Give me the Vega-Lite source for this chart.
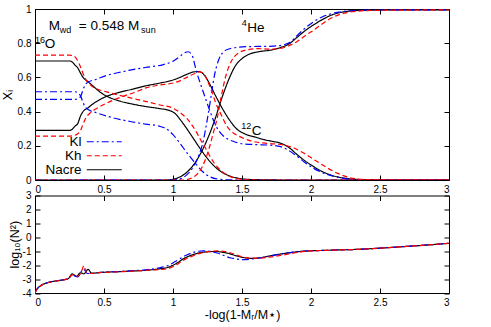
{
"$schema": "https://vega.github.io/schema/vega-lite/v6.json",
"padding": {"left": 0, "top": 3, "right": 5, "bottom": 5},
"background": "white",
"config": {
  "font": "Liberation Sans",
  "view": {"stroke": "#000", "strokeWidth": 1},
  "axis": {"domain": false, "grid": false, "tickSize": -5, "tickColor": "#000", "tickWidth": 1, "labelFontSize": 10, "labelColor": "#000", "labelPadding": 9, "titleFontSize": 12.5, "titleFontWeight": "normal", "titleColor": "#000"}
},
"datasets": {
"top": [
{"m":"Nacre","e":"O","x":0,"v":0.696},{"m":"Nacre","e":"O","x":0.25,"v":0.696},{"m":"Nacre","e":"O","x":0.27,"v":0.69},{"m":"Nacre","e":"O","x":0.29,"v":0.672},{"m":"Nacre","e":"O","x":0.31,"v":0.655},{"m":"Nacre","e":"O","x":0.33,"v":0.625},{"m":"Nacre","e":"O","x":0.35,"v":0.598},{"m":"Nacre","e":"O","x":0.38,"v":0.578},{"m":"Nacre","e":"O","x":0.42,"v":0.55},{"m":"Nacre","e":"O","x":0.47,"v":0.515},{"m":"Nacre","e":"O","x":0.52,"v":0.49},{"m":"Nacre","e":"O","x":0.6,"v":0.465},{"m":"Nacre","e":"O","x":0.7,"v":0.445},{"m":"Nacre","e":"O","x":0.8,"v":0.43},{"m":"Nacre","e":"O","x":0.9,"v":0.418},{"m":"Nacre","e":"O","x":0.98,"v":0.405},{"m":"Nacre","e":"O","x":1.02,"v":0.385},{"m":"Nacre","e":"O","x":1.06,"v":0.345},{"m":"Nacre","e":"O","x":1.1,"v":0.3},{"m":"Nacre","e":"O","x":1.15,"v":0.24},{"m":"Nacre","e":"O","x":1.2,"v":0.18},{"m":"Nacre","e":"O","x":1.25,"v":0.125},{"m":"Nacre","e":"O","x":1.3,"v":0.08},{"m":"Nacre","e":"O","x":1.35,"v":0.048},{"m":"Nacre","e":"O","x":1.4,"v":0.027},{"m":"Nacre","e":"O","x":1.45,"v":0.014},{"m":"Nacre","e":"O","x":1.5,"v":0.007},{"m":"Nacre","e":"O","x":1.6,"v":0.002},{"m":"Nacre","e":"O","x":1.8,"v":0},{"m":"Nacre","e":"O","x":3,"v":0},
{"m":"Nacre","e":"C","x":0,"v":0.29},{"m":"Nacre","e":"C","x":0.25,"v":0.29},{"m":"Nacre","e":"C","x":0.27,"v":0.297},{"m":"Nacre","e":"C","x":0.29,"v":0.315},{"m":"Nacre","e":"C","x":0.31,"v":0.33},{"m":"Nacre","e":"C","x":0.33,"v":0.375},{"m":"Nacre","e":"C","x":0.35,"v":0.402},{"m":"Nacre","e":"C","x":0.38,"v":0.42},{"m":"Nacre","e":"C","x":0.42,"v":0.445},{"m":"Nacre","e":"C","x":0.47,"v":0.47},{"m":"Nacre","e":"C","x":0.52,"v":0.49},{"m":"Nacre","e":"C","x":0.6,"v":0.51},{"m":"Nacre","e":"C","x":0.7,"v":0.53},{"m":"Nacre","e":"C","x":0.8,"v":0.55},{"m":"Nacre","e":"C","x":0.9,"v":0.566},{"m":"Nacre","e":"C","x":1.0,"v":0.585},{"m":"Nacre","e":"C","x":1.05,"v":0.6},{"m":"Nacre","e":"C","x":1.1,"v":0.618},{"m":"Nacre","e":"C","x":1.15,"v":0.632},{"m":"Nacre","e":"C","x":1.19,"v":0.634},{"m":"Nacre","e":"C","x":1.23,"v":0.61},{"m":"Nacre","e":"C","x":1.27,"v":0.555},{"m":"Nacre","e":"C","x":1.31,"v":0.49},{"m":"Nacre","e":"C","x":1.36,"v":0.415},{"m":"Nacre","e":"C","x":1.41,"v":0.35},{"m":"Nacre","e":"C","x":1.46,"v":0.3},{"m":"Nacre","e":"C","x":1.52,"v":0.27},{"m":"Nacre","e":"C","x":1.6,"v":0.25},{"m":"Nacre","e":"C","x":1.66,"v":0.236},{"m":"Nacre","e":"C","x":1.72,"v":0.226},{"m":"Nacre","e":"C","x":1.78,"v":0.215},{"m":"Nacre","e":"C","x":1.84,"v":0.19},{"m":"Nacre","e":"C","x":1.9,"v":0.148},{"m":"Nacre","e":"C","x":1.96,"v":0.11},{"m":"Nacre","e":"C","x":2.02,"v":0.078},{"m":"Nacre","e":"C","x":2.08,"v":0.05},{"m":"Nacre","e":"C","x":2.14,"v":0.03},{"m":"Nacre","e":"C","x":2.2,"v":0.017},{"m":"Nacre","e":"C","x":2.26,"v":0.009},{"m":"Nacre","e":"C","x":2.35,"v":0.003},{"m":"Nacre","e":"C","x":2.5,"v":0},{"m":"Nacre","e":"C","x":3,"v":0},
{"m":"Nacre","e":"He","x":0,"v":0},{"m":"Nacre","e":"He","x":0.95,"v":0},{"m":"Nacre","e":"He","x":1.0,"v":0.004},{"m":"Nacre","e":"He","x":1.05,"v":0.018},{"m":"Nacre","e":"He","x":1.1,"v":0.045},{"m":"Nacre","e":"He","x":1.15,"v":0.09},{"m":"Nacre","e":"He","x":1.2,"v":0.155},{"m":"Nacre","e":"He","x":1.25,"v":0.24},{"m":"Nacre","e":"He","x":1.3,"v":0.345},{"m":"Nacre","e":"He","x":1.35,"v":0.47},{"m":"Nacre","e":"He","x":1.4,"v":0.58},{"m":"Nacre","e":"He","x":1.45,"v":0.665},{"m":"Nacre","e":"He","x":1.5,"v":0.71},{"m":"Nacre","e":"He","x":1.55,"v":0.735},{"m":"Nacre","e":"He","x":1.62,"v":0.75},{"m":"Nacre","e":"He","x":1.71,"v":0.76},{"m":"Nacre","e":"He","x":1.78,"v":0.775},{"m":"Nacre","e":"He","x":1.84,"v":0.795},{"m":"Nacre","e":"He","x":1.9,"v":0.835},{"m":"Nacre","e":"He","x":1.96,"v":0.875},{"m":"Nacre","e":"He","x":2.02,"v":0.908},{"m":"Nacre","e":"He","x":2.08,"v":0.937},{"m":"Nacre","e":"He","x":2.14,"v":0.962},{"m":"Nacre","e":"He","x":2.2,"v":0.977},{"m":"Nacre","e":"He","x":2.26,"v":0.986},{"m":"Nacre","e":"He","x":2.33,"v":0.991},{"m":"Nacre","e":"He","x":2.45,"v":0.994},{"m":"Nacre","e":"He","x":3,"v":0.995},
{"m":"Kl","e":"O","x":0,"v":0.516},{"m":"Kl","e":"O","x":0.29,"v":0.516},{"m":"Kl","e":"O","x":0.31,"v":0.51},{"m":"Kl","e":"O","x":0.33,"v":0.492},{"m":"Kl","e":"O","x":0.345,"v":0.46},{"m":"Kl","e":"O","x":0.36,"v":0.432},{"m":"Kl","e":"O","x":0.38,"v":0.415},{"m":"Kl","e":"O","x":0.45,"v":0.392},{"m":"Kl","e":"O","x":0.55,"v":0.367},{"m":"Kl","e":"O","x":0.69,"v":0.342},{"m":"Kl","e":"O","x":0.8,"v":0.327},{"m":"Kl","e":"O","x":0.9,"v":0.315},{"m":"Kl","e":"O","x":0.96,"v":0.295},{"m":"Kl","e":"O","x":1.0,"v":0.265},{"m":"Kl","e":"O","x":1.05,"v":0.215},{"m":"Kl","e":"O","x":1.1,"v":0.16},{"m":"Kl","e":"O","x":1.13,"v":0.13},{"m":"Kl","e":"O","x":1.17,"v":0.09},{"m":"Kl","e":"O","x":1.22,"v":0.045},{"m":"Kl","e":"O","x":1.27,"v":0.018},{"m":"Kl","e":"O","x":1.32,"v":0.006},{"m":"Kl","e":"O","x":1.4,"v":0.001},{"m":"Kl","e":"O","x":1.5,"v":0},{"m":"Kl","e":"O","x":3,"v":0},
{"m":"Kl","e":"C","x":0,"v":0.472},{"m":"Kl","e":"C","x":0.29,"v":0.472},{"m":"Kl","e":"C","x":0.31,"v":0.476},{"m":"Kl","e":"C","x":0.33,"v":0.488},{"m":"Kl","e":"C","x":0.345,"v":0.52},{"m":"Kl","e":"C","x":0.36,"v":0.55},{"m":"Kl","e":"C","x":0.38,"v":0.57},{"m":"Kl","e":"C","x":0.45,"v":0.59},{"m":"Kl","e":"C","x":0.52,"v":0.612},{"m":"Kl","e":"C","x":0.6,"v":0.627},{"m":"Kl","e":"C","x":0.69,"v":0.643},{"m":"Kl","e":"C","x":0.8,"v":0.658},{"m":"Kl","e":"C","x":0.93,"v":0.675},{"m":"Kl","e":"C","x":1.0,"v":0.695},{"m":"Kl","e":"C","x":1.05,"v":0.723},{"m":"Kl","e":"C","x":1.08,"v":0.742},{"m":"Kl","e":"C","x":1.11,"v":0.75},{"m":"Kl","e":"C","x":1.14,"v":0.725},{"m":"Kl","e":"C","x":1.17,"v":0.635},{"m":"Kl","e":"C","x":1.2,"v":0.56},{"m":"Kl","e":"C","x":1.23,"v":0.49},{"m":"Kl","e":"C","x":1.26,"v":0.42},{"m":"Kl","e":"C","x":1.29,"v":0.355},{"m":"Kl","e":"C","x":1.33,"v":0.29},{"m":"Kl","e":"C","x":1.38,"v":0.248},{"m":"Kl","e":"C","x":1.44,"v":0.225},{"m":"Kl","e":"C","x":1.5,"v":0.212},{"m":"Kl","e":"C","x":1.6,"v":0.207},{"m":"Kl","e":"C","x":1.7,"v":0.204},{"m":"Kl","e":"C","x":1.78,"v":0.195},{"m":"Kl","e":"C","x":1.84,"v":0.172},{"m":"Kl","e":"C","x":1.9,"v":0.138},{"m":"Kl","e":"C","x":1.96,"v":0.1},{"m":"Kl","e":"C","x":2.02,"v":0.068},{"m":"Kl","e":"C","x":2.08,"v":0.044},{"m":"Kl","e":"C","x":2.14,"v":0.027},{"m":"Kl","e":"C","x":2.2,"v":0.015},{"m":"Kl","e":"C","x":2.3,"v":0.004},{"m":"Kl","e":"C","x":2.45,"v":0},{"m":"Kl","e":"C","x":3,"v":0},
{"m":"Kl","e":"He","x":0,"v":0},{"m":"Kl","e":"He","x":1.0,"v":0},{"m":"Kl","e":"He","x":1.05,"v":0.006},{"m":"Kl","e":"He","x":1.1,"v":0.03},{"m":"Kl","e":"He","x":1.15,"v":0.08},{"m":"Kl","e":"He","x":1.19,"v":0.15},{"m":"Kl","e":"He","x":1.22,"v":0.23},{"m":"Kl","e":"He","x":1.24,"v":0.315},{"m":"Kl","e":"He","x":1.26,"v":0.41},{"m":"Kl","e":"He","x":1.28,"v":0.51},{"m":"Kl","e":"He","x":1.3,"v":0.61},{"m":"Kl","e":"He","x":1.33,"v":0.7},{"m":"Kl","e":"He","x":1.36,"v":0.745},{"m":"Kl","e":"He","x":1.4,"v":0.765},{"m":"Kl","e":"He","x":1.47,"v":0.776},{"m":"Kl","e":"He","x":1.55,"v":0.78},{"m":"Kl","e":"He","x":1.7,"v":0.782},{"m":"Kl","e":"He","x":1.8,"v":0.79},{"m":"Kl","e":"He","x":1.86,"v":0.812},{"m":"Kl","e":"He","x":1.9,"v":0.845},{"m":"Kl","e":"He","x":1.96,"v":0.89},{"m":"Kl","e":"He","x":2.02,"v":0.926},{"m":"Kl","e":"He","x":2.08,"v":0.953},{"m":"Kl","e":"He","x":2.14,"v":0.971},{"m":"Kl","e":"He","x":2.2,"v":0.982},{"m":"Kl","e":"He","x":2.3,"v":0.99},{"m":"Kl","e":"He","x":2.45,"v":0.994},{"m":"Kl","e":"He","x":3,"v":0.995},
{"m":"Kh","e":"O","x":0,"v":0.73},{"m":"Kh","e":"O","x":0.25,"v":0.73},{"m":"Kh","e":"O","x":0.28,"v":0.725},{"m":"Kh","e":"O","x":0.3,"v":0.71},{"m":"Kh","e":"O","x":0.32,"v":0.68},{"m":"Kh","e":"O","x":0.34,"v":0.64},{"m":"Kh","e":"O","x":0.36,"v":0.6},{"m":"Kh","e":"O","x":0.38,"v":0.572},{"m":"Kh","e":"O","x":0.4,"v":0.556},{"m":"Kh","e":"O","x":0.45,"v":0.532},{"m":"Kh","e":"O","x":0.52,"v":0.515},{"m":"Kh","e":"O","x":0.64,"v":0.49},{"m":"Kh","e":"O","x":0.72,"v":0.475},{"m":"Kh","e":"O","x":0.81,"v":0.458},{"m":"Kh","e":"O","x":0.9,"v":0.44},{"m":"Kh","e":"O","x":1.0,"v":0.42},{"m":"Kh","e":"O","x":1.05,"v":0.395},{"m":"Kh","e":"O","x":1.1,"v":0.36},{"m":"Kh","e":"O","x":1.13,"v":0.33},{"m":"Kh","e":"O","x":1.17,"v":0.28},{"m":"Kh","e":"O","x":1.2,"v":0.235},{"m":"Kh","e":"O","x":1.24,"v":0.18},{"m":"Kh","e":"O","x":1.27,"v":0.135},{"m":"Kh","e":"O","x":1.3,"v":0.098},{"m":"Kh","e":"O","x":1.34,"v":0.06},{"m":"Kh","e":"O","x":1.39,"v":0.03},{"m":"Kh","e":"O","x":1.44,"v":0.012},{"m":"Kh","e":"O","x":1.5,"v":0.004},{"m":"Kh","e":"O","x":1.6,"v":0},{"m":"Kh","e":"O","x":3,"v":0},
{"m":"Kh","e":"C","x":0,"v":0.257},{"m":"Kh","e":"C","x":0.25,"v":0.257},{"m":"Kh","e":"C","x":0.28,"v":0.26},{"m":"Kh","e":"C","x":0.31,"v":0.27},{"m":"Kh","e":"C","x":0.33,"v":0.29},{"m":"Kh","e":"C","x":0.35,"v":0.33},{"m":"Kh","e":"C","x":0.37,"v":0.365},{"m":"Kh","e":"C","x":0.4,"v":0.392},{"m":"Kh","e":"C","x":0.45,"v":0.42},{"m":"Kh","e":"C","x":0.52,"v":0.45},{"m":"Kh","e":"C","x":0.64,"v":0.49},{"m":"Kh","e":"C","x":0.72,"v":0.512},{"m":"Kh","e":"C","x":0.81,"v":0.54},{"m":"Kh","e":"C","x":0.9,"v":0.555},{"m":"Kh","e":"C","x":1.0,"v":0.567},{"m":"Kh","e":"C","x":1.05,"v":0.58},{"m":"Kh","e":"C","x":1.1,"v":0.6},{"m":"Kh","e":"C","x":1.15,"v":0.62},{"m":"Kh","e":"C","x":1.19,"v":0.632},{"m":"Kh","e":"C","x":1.22,"v":0.625},{"m":"Kh","e":"C","x":1.25,"v":0.58},{"m":"Kh","e":"C","x":1.28,"v":0.52},{"m":"Kh","e":"C","x":1.31,"v":0.45},{"m":"Kh","e":"C","x":1.35,"v":0.38},{"m":"Kh","e":"C","x":1.39,"v":0.315},{"m":"Kh","e":"C","x":1.43,"v":0.28},{"m":"Kh","e":"C","x":1.48,"v":0.255},{"m":"Kh","e":"C","x":1.54,"v":0.235},{"m":"Kh","e":"C","x":1.6,"v":0.222},{"m":"Kh","e":"C","x":1.7,"v":0.213},{"m":"Kh","e":"C","x":1.8,"v":0.205},{"m":"Kh","e":"C","x":1.88,"v":0.186},{"m":"Kh","e":"C","x":1.95,"v":0.156},{"m":"Kh","e":"C","x":2.01,"v":0.125},{"m":"Kh","e":"C","x":2.07,"v":0.095},{"m":"Kh","e":"C","x":2.13,"v":0.065},{"m":"Kh","e":"C","x":2.19,"v":0.04},{"m":"Kh","e":"C","x":2.25,"v":0.021},{"m":"Kh","e":"C","x":2.31,"v":0.009},{"m":"Kh","e":"C","x":2.4,"v":0.003},{"m":"Kh","e":"C","x":2.55,"v":0},{"m":"Kh","e":"C","x":3,"v":0},
{"m":"Kh","e":"He","x":0,"v":0},{"m":"Kh","e":"He","x":1.08,"v":0},{"m":"Kh","e":"He","x":1.13,"v":0.01},{"m":"Kh","e":"He","x":1.17,"v":0.03},{"m":"Kh","e":"He","x":1.2,"v":0.06},{"m":"Kh","e":"He","x":1.23,"v":0.11},{"m":"Kh","e":"He","x":1.26,"v":0.18},{"m":"Kh","e":"He","x":1.29,"v":0.27},{"m":"Kh","e":"He","x":1.32,"v":0.36},{"m":"Kh","e":"He","x":1.35,"v":0.49},{"m":"Kh","e":"He","x":1.38,"v":0.6},{"m":"Kh","e":"He","x":1.42,"v":0.69},{"m":"Kh","e":"He","x":1.47,"v":0.74},{"m":"Kh","e":"He","x":1.54,"v":0.762},{"m":"Kh","e":"He","x":1.62,"v":0.768},{"m":"Kh","e":"He","x":1.7,"v":0.765},{"m":"Kh","e":"He","x":1.78,"v":0.77},{"m":"Kh","e":"He","x":1.84,"v":0.785},{"m":"Kh","e":"He","x":1.9,"v":0.81},{"m":"Kh","e":"He","x":1.96,"v":0.845},{"m":"Kh","e":"He","x":2.02,"v":0.877},{"m":"Kh","e":"He","x":2.08,"v":0.912},{"m":"Kh","e":"He","x":2.14,"v":0.944},{"m":"Kh","e":"He","x":2.2,"v":0.966},{"m":"Kh","e":"He","x":2.26,"v":0.979},{"m":"Kh","e":"He","x":2.33,"v":0.987},{"m":"Kh","e":"He","x":2.45,"v":0.992},{"m":"Kh","e":"He","x":3,"v":0.995}
],
"bot": [
{"m":"Nacre","x":0,"n":-4},{"m":"Nacre","x":0.01,"n":-3.78},{"m":"Nacre","x":0.02,"n":-3.65},{"m":"Nacre","x":0.035,"n":-3.52},{"m":"Nacre","x":0.05,"n":-3.42},{"m":"Nacre","x":0.08,"n":-3.29},{"m":"Nacre","x":0.12,"n":-3.19},{"m":"Nacre","x":0.16,"n":-3.12},{"m":"Nacre","x":0.2,"n":-3.06},{"m":"Nacre","x":0.24,"n":-2.98},{"m":"Nacre","x":0.27,"n":-2.63},{"m":"Nacre","x":0.3,"n":-2.8},{"m":"Nacre","x":0.33,"n":-2.55},{"m":"Nacre","x":0.355,"n":-2.62},{"m":"Nacre","x":0.385,"n":-2.3},{"m":"Nacre","x":0.41,"n":-2.58},{"m":"Nacre","x":0.47,"n":-2.53},{"m":"Nacre","x":0.6,"n":-2.47},{"m":"Nacre","x":0.71,"n":-2.42},{"m":"Nacre","x":0.8,"n":-2.37},{"m":"Nacre","x":0.9,"n":-2.27},{"m":"Nacre","x":0.96,"n":-2.17},{"m":"Nacre","x":1.02,"n":-1.9},{"m":"Nacre","x":1.08,"n":-1.52},{"m":"Nacre","x":1.14,"n":-1.26},{"m":"Nacre","x":1.2,"n":-1.1},{"m":"Nacre","x":1.3,"n":-1.02},{"m":"Nacre","x":1.39,"n":-1.13},{"m":"Nacre","x":1.46,"n":-1.33},{"m":"Nacre","x":1.52,"n":-1.47},{"m":"Nacre","x":1.57,"n":-1.51},{"m":"Nacre","x":1.62,"n":-1.49},{"m":"Nacre","x":1.68,"n":-1.38},{"m":"Nacre","x":1.75,"n":-1.25},{"m":"Nacre","x":1.85,"n":-1.1},{"m":"Nacre","x":1.92,"n":-1.02},{"m":"Nacre","x":2.0,"n":-0.97},{"m":"Nacre","x":2.1,"n":-0.94},{"m":"Nacre","x":2.2,"n":-0.91},{"m":"Nacre","x":2.3,"n":-0.88},{"m":"Nacre","x":2.5,"n":-0.78},{"m":"Nacre","x":2.7,"n":-0.65},{"m":"Nacre","x":2.85,"n":-0.55},{"m":"Nacre","x":3.0,"n":-0.43},
{"m":"Kl","x":0,"n":-4},{"m":"Kl","x":0.01,"n":-3.78},{"m":"Kl","x":0.02,"n":-3.65},{"m":"Kl","x":0.035,"n":-3.52},{"m":"Kl","x":0.05,"n":-3.42},{"m":"Kl","x":0.08,"n":-3.29},{"m":"Kl","x":0.12,"n":-3.19},{"m":"Kl","x":0.16,"n":-3.12},{"m":"Kl","x":0.2,"n":-3.06},{"m":"Kl","x":0.24,"n":-2.98},{"m":"Kl","x":0.27,"n":-2.72},{"m":"Kl","x":0.31,"n":-2.85},{"m":"Kl","x":0.35,"n":-2.28},{"m":"Kl","x":0.38,"n":-2.6},{"m":"Kl","x":0.41,"n":-2.6},{"m":"Kl","x":0.47,"n":-2.52},{"m":"Kl","x":0.6,"n":-2.46},{"m":"Kl","x":0.71,"n":-2.4},{"m":"Kl","x":0.8,"n":-2.33},{"m":"Kl","x":0.9,"n":-2.2},{"m":"Kl","x":0.96,"n":-2.04},{"m":"Kl","x":1.02,"n":-1.72},{"m":"Kl","x":1.1,"n":-1.27},{"m":"Kl","x":1.16,"n":-1.05},{"m":"Kl","x":1.22,"n":-0.97},{"m":"Kl","x":1.32,"n":-1.13},{"m":"Kl","x":1.42,"n":-1.49},{"m":"Kl","x":1.51,"n":-1.6},{"m":"Kl","x":1.58,"n":-1.55},{"m":"Kl","x":1.65,"n":-1.44},{"m":"Kl","x":1.75,"n":-1.26},{"m":"Kl","x":1.85,"n":-1.1},{"m":"Kl","x":1.92,"n":-1.02},{"m":"Kl","x":2.0,"n":-0.97},{"m":"Kl","x":2.1,"n":-0.94},{"m":"Kl","x":2.2,"n":-0.91},{"m":"Kl","x":2.3,"n":-0.88},{"m":"Kl","x":2.5,"n":-0.78},{"m":"Kl","x":2.7,"n":-0.65},{"m":"Kl","x":2.85,"n":-0.55},{"m":"Kl","x":3.0,"n":-0.43},
{"m":"Kh","x":0,"n":-4},{"m":"Kh","x":0.01,"n":-3.8},{"m":"Kh","x":0.02,"n":-3.66},{"m":"Kh","x":0.035,"n":-3.53},{"m":"Kh","x":0.05,"n":-3.43},{"m":"Kh","x":0.08,"n":-3.3},{"m":"Kh","x":0.12,"n":-3.2},{"m":"Kh","x":0.16,"n":-3.13},{"m":"Kh","x":0.2,"n":-3.07},{"m":"Kh","x":0.24,"n":-2.96},{"m":"Kh","x":0.27,"n":-2.7},{"m":"Kh","x":0.3,"n":-2.8},{"m":"Kh","x":0.33,"n":-2.62},{"m":"Kh","x":0.355,"n":-2.04},{"m":"Kh","x":0.37,"n":-2.5},{"m":"Kh","x":0.4,"n":-2.6},{"m":"Kh","x":0.47,"n":-2.54},{"m":"Kh","x":0.6,"n":-2.48},{"m":"Kh","x":0.71,"n":-2.43},{"m":"Kh","x":0.8,"n":-2.38},{"m":"Kh","x":0.9,"n":-2.32},{"m":"Kh","x":0.96,"n":-2.26},{"m":"Kh","x":1.02,"n":-2.0},{"m":"Kh","x":1.08,"n":-1.62},{"m":"Kh","x":1.14,"n":-1.35},{"m":"Kh","x":1.2,"n":-1.14},{"m":"Kh","x":1.32,"n":-0.98},{"m":"Kh","x":1.42,"n":-1.13},{"m":"Kh","x":1.5,"n":-1.4},{"m":"Kh","x":1.55,"n":-1.49},{"m":"Kh","x":1.62,"n":-1.5},{"m":"Kh","x":1.7,"n":-1.42},{"m":"Kh","x":1.78,"n":-1.3},{"m":"Kh","x":1.84,"n":-1.2},{"m":"Kh","x":1.92,"n":-1.06},{"m":"Kh","x":2.0,"n":-0.98},{"m":"Kh","x":2.1,"n":-0.94},{"m":"Kh","x":2.2,"n":-0.91},{"m":"Kh","x":2.3,"n":-0.88},{"m":"Kh","x":2.5,"n":-0.78},{"m":"Kh","x":2.7,"n":-0.65},{"m":"Kh","x":2.85,"n":-0.55},{"m":"Kh","x":3.0,"n":-0.43}
],
"ann": [
{"t":"M","x":0.0994,"y":0.877,"k":"main"},
{"t":"wd","x":0.179,"y":0.857,"k":"small"},
{"t":"= 0.548 M","x":0.317,"y":0.877,"k":"main"},
{"t":"sun","x":0.769,"y":0.857,"k":"small"},
{"t":"16","x":0.0,"y":0.804,"k":"small"},
{"t":"O","x":0.0704,"y":0.772,"k":"main"},
{"t":"4","x":1.499,"y":0.898,"k":"small"},
{"t":"He","x":1.538,"y":0.867,"k":"main"},
{"t":"12","x":1.495,"y":0.301,"k":"small"},
{"t":"C","x":1.57,"y":0.263,"k":"main"}
]
},
"spacing": 15.5,
"bounds": "flush",
"resolve": {"scale": {"color": "independent", "strokeDash": "independent"}},
"vconcat": [
{
 "width": 414, "height": 171,
 "layer": [
  {"data": {"name": "top"},
   "mark": {"type": "line", "interpolate": "monotone", "strokeWidth": 1.2, "clip": true},
   "encoding": {
    "x": {"field": "x", "type": "quantitative", "scale": {"domain": [0, 3], "nice": false}, "axis": {"values": [0, 0.5, 1, 1.5, 2, 2.5, 3], "format": "~g", "title": null}},
    "y": {"field": "v", "type": "quantitative", "scale": {"domain": [0, 1], "nice": false}, "axis": {"values": [0, 0.2, 0.4, 0.6, 0.8, 1], "format": "~g", "title": "Xᵢ", "titlePadding": 3}},
    "color": {"field": "m", "type": "nominal", "scale": {"domain": ["Kl", "Kh", "Nacre"], "range": ["#0000ff", "#ff0000", "#000000"]},
      "legend": {"orient": "none", "legendX": 62.5, "legendY": 126, "title": null, "symbolType": "M-3.5,0H3.5", "symbolSize": 100, "symbolStrokeWidth": 1.2, "labelAlign": "right", "labelOffset": -29.5, "labelFontSize": 13.5, "labelColor": "#000", "rowPadding": -1.5, "padding": 0}},
    "strokeDash": {"field": "m", "type": "nominal", "scale": {"domain": ["Kl", "Kh", "Nacre"], "range": [[7, 3, 2, 3], [5, 3], [1, 0]]},
      "legend": {"orient": "none", "legendX": 62.5, "legendY": 126, "title": null, "symbolType": "M-3.5,0H3.5", "symbolSize": 100, "symbolStrokeWidth": 1.2, "labelAlign": "right", "labelOffset": -29.5, "labelFontSize": 13.5, "labelColor": "#000", "rowPadding": -1.5, "padding": 0}},
    "detail": {"field": "e"}
   }},
  {"data": {"name": "ann"},
   "transform": [{"filter": "datum.k == 'main'"}],
   "mark": {"type": "text", "align": "left", "baseline": "alphabetic", "fontSize": 13.5, "color": "#000"},
   "encoding": {
    "x": {"field": "x", "type": "quantitative", "scale": {"domain": [0, 3], "nice": false}, "axis": {"orient": "top", "values": [0, 0.5, 1, 1.5, 2, 2.5, 3], "labels": false, "title": null}},
    "y": {"field": "y", "type": "quantitative", "scale": {"domain": [0, 1], "nice": false}, "axis": {"orient": "right", "values": [0, 0.2, 0.4, 0.6, 0.8, 1], "labels": false, "title": null}},
    "text": {"field": "t"}
   }},
  {"data": {"name": "ann"},
   "transform": [{"filter": "datum.k == 'small'"}],
   "mark": {"type": "text", "align": "left", "baseline": "alphabetic", "fontSize": 9, "color": "#000"},
   "encoding": {
    "x": {"field": "x", "type": "quantitative", "axis": null},
    "y": {"field": "y", "type": "quantitative", "axis": null},
    "text": {"field": "t"}
   }}
 ],
 "resolve": {"axis": {"x": "independent", "y": "independent"}}
},
{
 "width": 414, "height": 97.5,
 "data": {"name": "bot"},
 "layer": [
  {"mark": {"type": "line", "interpolate": "monotone", "strokeWidth": 1.2, "clip": true},
   "encoding": {
    "x": {"field": "x", "type": "quantitative", "scale": {"domain": [0, 3], "nice": false}, "axis": {"values": [0, 0.5, 1, 1.5, 2, 2.5, 3], "format": "~g", "title": "-log(1-Mᵣ/M⋆)", "titlePadding": 1}},
    "y": {"field": "n", "type": "quantitative", "scale": {"domain": [-4, 3], "nice": false}, "axis": {"values": [-4, -3, -2, -1, 0, 1, 2, 3], "format": "~g", "labelExpr": "replace(datum.label, '−', '-')", "title": "log₁₀(N²)", "titlePadding": 1}},
    "color": {"field": "m", "type": "nominal", "scale": {"domain": ["Kl", "Kh", "Nacre"], "range": ["#0000ff", "#ff0000", "#000000"]}, "legend": null},
    "strokeDash": {"field": "m", "type": "nominal", "scale": {"domain": ["Kl", "Kh", "Nacre"], "range": [[7, 3, 2, 3], [5, 3], [1, 0]]}, "legend": null}
   }},
  {"mark": {"type": "point", "opacity": 0},
   "encoding": {
    "x": {"field": "x", "type": "quantitative", "axis": {"orient": "top", "values": [0, 0.5, 1, 1.5, 2, 2.5, 3], "labels": false, "title": null}},
    "y": {"field": "n", "type": "quantitative", "axis": {"orient": "right", "values": [-4, -3, -2, -1, 0, 1, 2, 3], "labels": false, "title": null}}
   }}
 ],
 "resolve": {"axis": {"x": "independent", "y": "independent"}}
}
]
}
